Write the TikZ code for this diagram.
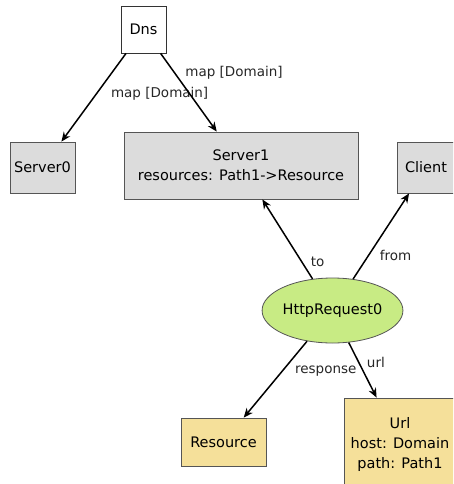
\documentclass[tikz,border=0pt]{standalone}
\usepackage{fontspec}
\setmainfont{DejaVu Sans}
\usetikzlibrary{arrows.meta,shapes.geometric}
\definecolor{boxgray}{HTML}{DCDCDC}
\definecolor{boxyellow}{HTML}{F5E09A}
\definecolor{nodegreen}{HTML}{C8EB84}
\definecolor{bordergray}{HTML}{555555}
\begin{document}
\begin{tikzpicture}[x=1pt,y=-1pt,
  box/.style={draw=bordergray, line width=0.8pt, inner sep=0pt, align=center, font=\fontsize{14.5}{20}\selectfont},
  conn/.style={-{Stealth[length=9.5pt,width=8pt]}, line width=1.5pt},
  lbl/.style={font=\fontsize{13.5}{16}\selectfont, text=black!85, inner sep=0pt, anchor=west}]
\useasboundingbox (0,0) rectangle (453,484);
\clip (0,0) rectangle (453,484);
\node[box, draw=black!80, fill=white, minimum width=45pt, minimum height=47pt] (dns) at (143.5,29.5) {Dns};
\node[box, fill=boxgray, minimum width=65pt, minimum height=51pt] (s0) at (42.5,167.5) {Server0};
\node[box, fill=boxgray, minimum width=234pt, minimum height=67pt] (s1) at (241,165.5) {Server1\\resources: Path1->Resource};
\node[box, fill=boxgray, minimum width=58pt, minimum height=51pt] (client) at (426,167.5) {Client};
\node[box, ellipse, fill=nodegreen, minimum width=139pt, minimum height=65pt] (req) at (332.5,310.5) {HttpRequest0};
\node[box, fill=boxyellow, minimum width=85pt, minimum height=48pt] (res) at (223.5,442) {Resource};
\node[box, fill=boxyellow, minimum width=112pt, minimum height=92pt] (url) at (400,444) {Url\\host: Domain\\path: Path1};
\draw[conn] (dns) -- node[lbl, pos=0.46, xshift=14pt] {map [Domain]} (s0);
\draw[conn] (dns) -- node[lbl, pos=0.25, xshift=10pt] {map [Domain]} (s1);
\draw[conn] (req) -- node[lbl, pos=0.21, xshift=8pt] {to} (s1);
\draw[conn] (req) -- node[lbl, pos=0.27, xshift=11pt] {from} (client);
\draw[conn] (req) -- node[lbl, pos=0.39, xshift=12pt] {response} (res);
\draw[conn] (req) -- node[lbl, pos=0.36, xshift=7.5pt] {url} (url);
\end{tikzpicture}
\end{document}
